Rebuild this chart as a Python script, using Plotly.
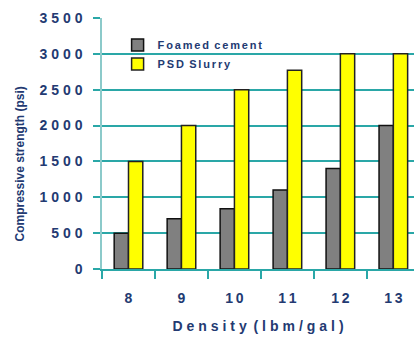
import plotly.graph_objects as go

density = ["8", "9", "10", "11", "12", "13"]
foamed_cement = [500, 700, 840, 1100, 1400, 2000]
psd_slurry = [1500, 2000, 2500, 2770, 3000, 3000]
y_ticks = [0, 500, 1000, 1500, 2000, 2500, 3000, 3500]

navy = "#233a72"
teal = "#2aa7a7"
font_family = "Liberation Sans, Arial, sans-serif"


def spaced(s, gap="\u2009"):
    # widen letter spacing with thin spaces; words separated by a wider gap
    return "\u00a0\u2009".join(gap.join(w) for w in s.split(" "))


fig = go.Figure()
fig.add_trace(go.Bar(
    x=density, y=foamed_cement, name=spaced("Foamed cement", "\u200a\u200a"),
    marker=dict(color="#808080", line=dict(color="#111111", width=1.5)),
))
fig.add_trace(go.Bar(
    x=density, y=psd_slurry, name=spaced("PSD Slurry", "\u200a\u200a"),
    marker=dict(color="#ffff00", line=dict(color="#222222", width=1.5)),
))

fig.update_layout(
    width=414, height=337,
    margin=dict(l=102, r=0, t=18, b=68),
    paper_bgcolor="white", plot_bgcolor="white",
    barmode="group", bargap=0.46, bargroupgap=0.0,
    font=dict(family=font_family, color=navy, size=12, weight="bold"),
    showlegend=True,
    legend=dict(
        x=0.05, y=0.95, xanchor="left", yanchor="top",
        bgcolor="rgba(0,0,0,0)",
        font=dict(size=11, color=navy, family=font_family, weight="bold"),
        itemwidth=30,
    ),
    xaxis=dict(
        type="category", range=[-0.5, 5.39],
        tickmode="array", tickvals=list(range(len(density))),
        ticktext=[spaced(d) for d in density],
        tickfont=dict(size=14, color=navy, family=font_family, weight="bold"),
        ticks="outside", ticklen=8, tickcolor=teal, tickwidth=1.5,
        tickson="boundaries", ticklabelstandoff=15,
        showline=True, linecolor=teal, linewidth=1.5,
        showgrid=False,
        title=dict(text=spaced("Density (lbm/gal)", "\u2009\u200a"),
                   font=dict(size=14, color=navy, weight="bold"), standoff=17),
    ),
    yaxis=dict(
        range=[0, 3500],
        tickmode="array", tickvals=y_ticks,
        ticktext=[spaced(str(v), "\u2009\u200a") for v in y_ticks],
        tickfont=dict(size=14, color=navy, family=font_family, weight="bold"),
        ticks="outside", ticklen=7, tickcolor=teal, tickwidth=1.5,
        ticklabelstandoff=8,
        showline=True, linecolor="#8ccaca", linewidth=1.5,
        showgrid=True, gridcolor=teal, gridwidth=1.5,
        zeroline=False,
    ),
    annotations=[dict(
        text="Compressive strength (psi)", textangle=-90,
        xref="paper", yref="paper", x=-0.263, y=0.42,
        xanchor="center", yanchor="middle", showarrow=False,
        font=dict(size=12, color=navy, family=font_family, weight="bold"),
    )],
)

fig.write_html("out.html")
